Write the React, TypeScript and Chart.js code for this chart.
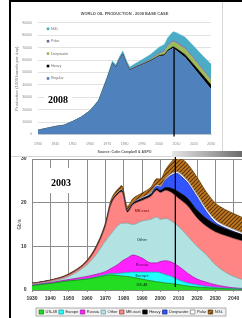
import React, { useEffect, useRef } from "react";
import { Chart, registerables } from "chart.js";
Chart.register(...registerables);

// ---------- TOP CHART (2008 base case) ----------
const TOP_YEARS = [1930, 1935, 1940, 1945, 1950, 1955, 1960, 1965, 1970, 1973, 1975, 1977, 1979, 1981, 1983, 1985, 1990, 1995, 2000, 2003, 2005, 2008, 2010, 2015, 2020, 2025, 2030];
const TOP_REGULAR = [3500, 5000, 6500, 7500, 10500, 14000, 19000, 27000, 45000, 57000, 54000, 60000, 64500, 57000, 51500, 53000, 56000, 59000, 63000, 63500, 67000, 69500, 67500, 62000, 53500, 45000, 36500];
const TOP_HEAVY = [0, 0, 0, 0, 0, 0, 0, 0, 200, 300, 300, 300, 400, 400, 400, 400, 500, 600, 700, 900, 1100, 1300, 1700, 2300, 2800, 3100, 3300];
const TOP_DEEPWATER = [0, 0, 0, 0, 0, 0, 0, 0, 0, 0, 0, 0, 0, 0, 0, 0, 100, 400, 1200, 2200, 3000, 4000, 4300, 4500, 4300, 4000, 3800];
const TOP_POLAR = [0, 0, 0, 0, 0, 0, 0, 0, 200, 300, 300, 400, 400, 400, 400, 500, 600, 700, 800, 800, 900, 1000, 1000, 1000, 1000, 1000, 1000];
const TOP_NGL = [0, 0, 0, 0, 100, 200, 400, 700, 1200, 1600, 1600, 1800, 2000, 2000, 2000, 2200, 3000, 3800, 4700, 5200, 6000, 7000, 7500, 8500, 9500, 10500, 12000];
const TOP_LABELS = ["Regular", "Heavy", "Deepwater", "Polar", "NGL"];
const TOP_COLORS = ["#4f81bd", "#000000", "#9bbb59", "#8064a2", "#4bacc6"];
const TOP_TITLE = "WORLD OIL PRODUCTION - 2008 BASE CASE";
const TOP_Y_TITLE = "Production (1000 barrels per day)";
const TOP_X_TITLE = "Source: Colin Campbell & ASPO";
const TOP_TAG = "2008";
const TOP_MARK_YEAR = 2008.6;
const TOP_MARK_VALUE = 69500;

// ---------- BOTTOM CHART (2003 scenario) ----------
const BOT_YEARS = [1930, 1940, 1950, 1960, 1965, 1970, 1973, 1977, 1979, 1982, 1985, 1990, 1995, 1998, 2000, 2003, 2006, 2009, 2012, 2015, 2020, 2025, 2030, 2035, 2040, 2050];
const BOT_US48 = [1.0, 1.5, 2.1, 2.5, 2.9, 3.3, 3.5, 3.3, 3.2, 3.1, 2.9, 2.5, 2.1, 1.9, 1.8, 1.6, 1.5, 1.3, 1.1, 0.9, 0.7, 0.55, 0.4, 0.3, 0.2, 0.1];
const BOT_EUROPE = [0, 0, 0, 0.05, 0.1, 0.2, 0.3, 0.5, 0.7, 0.9, 1.2, 1.6, 2.0, 2.2, 2.1, 1.9, 1.6, 1.2, 0.9, 0.7, 0.5, 0.3, 0.2, 0.15, 0.1, 0.05];
const BOT_RUSSIA = [0.1, 0.2, 0.3, 0.55, 0.6, 0.7, 1.1, 2.1, 2.7, 3.3, 3.9, 3.2, 2.1, 2.1, 2.6, 3.2, 3.3, 3.2, 2.8, 2.2, 1.3, 0.95, 0.6, 0.35, 0.2, 0.1];
const BOT_OTHER = [0.2, 0.2, 0.7, 2.7, 4.5, 7.0, 7.9, 8.9, 8.7, 8.0, 7.0, 8.5, 10.0, 10.5, 9.7, 9.7, 9.4, 9.2, 8.9, 8.5, 7.5, 6.3, 4.6, 3.4, 2.6, 1.55];
const BOT_MEEAST = [0.2, 0.3, 0.4, 0.7, 1.5, 3.4, 6.7, 7.2, 7.2, 2.5, 4.5, 4.7, 5.3, 6.1, 6.1, 6.4, 6.5, 6.4, 6.6, 6.9, 6.5, 6.5, 7.5, 8.3, 8.7, 8.8];
const BOT_HEAVY = [0, 0, 0, 0.05, 0.1, 0.15, 0.2, 0.25, 0.3, 0.3, 0.3, 0.35, 0.4, 0.45, 0.5, 0.7, 1.0, 1.4, 1.6, 1.7, 1.8, 1.8, 1.7, 1.6, 1.5, 1.3];
const BOT_DEEPWATER = [0, 0, 0, 0, 0, 0, 0, 0, 0, 0, 0, 0.1, 0.2, 0.5, 0.8, 1.8, 3.0, 4.0, 3.9, 3.6, 3.0, 1.6, 0.5, 0.2, 0.1, 0];
const BOT_POLAR = [0, 0, 0, 0, 0, 0.1, 0.1, 0.15, 0.2, 0.2, 0.2, 0.25, 0.3, 0.3, 0.3, 0.35, 0.4, 0.4, 0.5, 0.5, 0.6, 0.6, 0.6, 0.5, 0.5, 0.4];
const BOT_NGL = [0.05, 0.1, 0.2, 0.3, 0.4, 0.5, 0.7, 0.8, 0.9, 0.9, 0.9, 1.0, 1.2, 1.4, 1.5, 2.0, 2.6, 3.3, 3.6, 3.8, 3.9, 3.9, 3.8, 3.7, 3.6, 3.3];
const BOT_LABELS = ["US-48", "Europe", "Russia", "Other", "ME.east", "Heavy", "Deepwater", "Polar", "NGL"];
const BOT_COLORS = ["#22dd22", "#22ffff", "#ff22ff", "#b2e2e2", "#ff8484", "#000000", "#3355ff", "#ffffff", "hatch"];
const BOT_BORDERS = ["#117711", "#119999", "#991199", "#7a9a9a", "#884444", "#000000", "#112288", "#777777", "#553300"];
const BOT_LABEL_COLORS = ["#0c5c0c", "#127070", "#7a0f7a", "#3c6262", "#a02828"];
const BOT_Y_TITLE = "Gb/a";
const BOT_TAG = "2003";
const BOT_LABEL_YEAR = 1990;
const BOT_MARK_YEAR = 2008.2;

const SANS = "'Liberation Sans', Arial, sans-serif";
const SERIF = "'Liberation Serif', 'Times New Roman', serif";

function makeHatch(): CanvasPattern | string {
  const c = document.createElement("canvas");
  c.width = 4;
  c.height = 4;
  const g = c.getContext("2d");
  if (!g) return "#a0621a";
  g.fillStyle = "#c27a22";
  g.fillRect(0, 0, 4, 4);
  g.strokeStyle = "#5a3206";
  g.lineWidth = 1.1;
  g.beginPath();
  g.moveTo(-1, 5);
  g.lineTo(5, -1);
  g.moveTo(-1, 1);
  g.lineTo(1, -1);
  g.moveTo(3, 5);
  g.lineTo(5, 3);
  g.stroke();
  const p = g.createPattern(c, "repeat");
  return p || "#a0621a";
}

function pts(years: number[], vals: number[]) {
  return years.map((x, i) => ({ x, y: vals[i] }));
}

const topDecor = {
  id: "topDecor",
  afterDatasetsDraw(chart: any) {
    const { ctx, chartArea, scales } = chart;
    const x = scales.x;
    const y = scales.y;
    ctx.save();
    const lx = x.getPixelForValue(TOP_MARK_YEAR);
    ctx.strokeStyle = "#000";
    ctx.lineWidth = 1.3;
    ctx.beginPath();
    ctx.moveTo(lx, y.getPixelForValue(TOP_MARK_VALUE));
    ctx.lineTo(lx, chartArea.bottom + 2);
    ctx.stroke();
    const order = [4, 3, 2, 1, 0];
    const step = y.getPixelForValue(0) - y.getPixelForValue(10000);
    ctx.font = `3.6px ${SANS}`;
    ctx.textBaseline = "middle";
    order.forEach((di, k) => {
      const yy = chartArea.top + 6 + k * step;
      const xx = chartArea.left + 10;
      ctx.fillStyle = TOP_COLORS[di];
      ctx.fillRect(xx - 1.3, yy - 1.3, 2.6, 2.6);
      ctx.fillStyle = "#6a6a6a";
      ctx.fillText(TOP_LABELS[di], xx + 3, yy);
    });
    ctx.fillStyle = "#fff";
    ctx.fillRect(chartArea.left + 6, chartArea.top + 69, 28, 14);
    ctx.fillStyle = "#000";
    ctx.font = `bold 10px ${SERIF}`;
    ctx.textBaseline = "alphabetic";
    ctx.fillText(TOP_TAG, chartArea.left + 10, chartArea.top + 80);
    ctx.restore();
  },
};

const botDecor = {
  id: "botDecor",
  beforeDraw(chart: any) {
    const lg = chart.legend;
    if (!lg || !lg.legendHitBoxes || !lg.legendHitBoxes.length) return;
    const hb = lg.legendHitBoxes;
    let l = Infinity, r = -Infinity, t = Infinity, b = -Infinity;
    hb.forEach((h: any) => {
      l = Math.min(l, h.left);
      r = Math.max(r, h.left + h.width);
      t = Math.min(t, h.top);
      b = Math.max(b, h.top + h.height);
    });
    const ctx = chart.ctx;
    ctx.save();
    ctx.fillStyle = "#f3f3f3";
    ctx.strokeStyle = "#9a9a9a";
    ctx.lineWidth = 0.8;
    ctx.fillRect(l - 3, t - 2, r - l + 6, b - t + 4);
    ctx.strokeRect(l - 3, t - 2, r - l + 6, b - t + 4);
    ctx.restore();
  },
  afterDatasetsDraw(chart: any) {
    const { ctx, chartArea, scales } = chart;
    const x = scales.x;
    const y = scales.y;
    ctx.save();
    const idx = BOT_YEARS.indexOf(BOT_LABEL_YEAR);
    const series = [BOT_US48, BOT_EUROPE, BOT_RUSSIA, BOT_OTHER, BOT_MEEAST];
    let base = 0;
    ctx.font = `bold 3.8px ${SANS}`;
    ctx.textAlign = "center";
    ctx.textBaseline = "middle";
    series.forEach((s, i) => {
      const top = base + s[idx];
      ctx.fillStyle = BOT_LABEL_COLORS[i];
      ctx.fillText(BOT_LABELS[i], x.getPixelForValue(BOT_LABEL_YEAR), y.getPixelForValue((base + top) / 2));
      base = top;
    });
    const lx = x.getPixelForValue(BOT_MARK_YEAR);
    ctx.strokeStyle = "#000";
    ctx.lineWidth = 1.3;
    ctx.beginPath();
    ctx.moveTo(lx, chartArea.top - 6);
    ctx.lineTo(lx, chartArea.bottom - 3);
    ctx.stroke();
    ctx.fillStyle = "#fff";
    ctx.fillRect(chartArea.left + 10, chartArea.top + 9, 38, 25);
    ctx.fillStyle = "#000";
    ctx.font = `bold 10px ${SERIF}`;
    ctx.textAlign = "left";
    ctx.textBaseline = "alphabetic";
    ctx.fillText(BOT_TAG, chartArea.left + 19, chartArea.top + 26.5);
    ctx.restore();
  },
};

export default function App() {
  const topRef = useRef<HTMLCanvasElement>(null);
  const botRef = useRef<HTMLCanvasElement>(null);

  useEffect(() => {
    const topSeries = [TOP_REGULAR, TOP_HEAVY, TOP_DEEPWATER, TOP_POLAR, TOP_NGL];
    const top = new Chart(topRef.current as HTMLCanvasElement, {
      type: "line",
      data: {
        datasets: topSeries.map((s, i) => ({
          label: TOP_LABELS[i],
          data: pts(TOP_YEARS, s),
          backgroundColor: TOP_COLORS[i],
          borderColor: TOP_COLORS[i],
          borderWidth: 0.5,
          pointRadius: 0,
          fill: i === 0 ? "origin" : "-1",
          tension: 0,
        })),
      },
      options: {
        animation: false,
        responsive: false,
        maintainAspectRatio: false,
        events: [],
        layout: { padding: { left: 0, right: 8, top: 0, bottom: 0 } },
        plugins: {
          legend: { display: false },
          tooltip: { enabled: false },
          title: {
            display: true,
            fullSize: false,
            text: TOP_TITLE,
            color: "#555",
            font: { size: 4, weight: "bold", family: SANS },
            padding: { top: 9, bottom: 7 },
          },
        },
        scales: {
          x: {
            type: "linear",
            min: 1930,
            max: 2030,
            grid: { display: false, drawTicks: false },
            border: { color: "#d0d0d0" },
            ticks: { stepSize: 10, color: "#8a8a8a", font: { size: 3.5, family: SANS }, padding: 7, maxRotation: 0, autoSkip: false, callback: (v: any) => String(v) },
            title: { display: true, text: TOP_X_TITLE, color: "#555", font: { size: 3.5, weight: "bold", family: SANS }, padding: { top: 1, bottom: 2 } },
            afterFit: (s: any) => { s.height = 21.5; },
          },
          y: {
            stacked: true,
            min: 0,
            max: 90000,
            grid: { color: "#e2e2e2", drawTicks: false },
            border: { display: false },
            ticks: { stepSize: 10000, color: "#8a8a8a", font: { size: 3.5, family: SANS }, padding: 6, callback: (v: any) => String(v) },
            title: { display: true, text: TOP_Y_TITLE, color: "#777", font: { size: 4.3, family: SANS }, padding: { top: 4, bottom: 0 } },
            afterFit: (s: any) => { s.width = 28; },
          },
        },
      },
      plugins: [topDecor],
    } as any);

    const hatch = makeHatch();
    const botSeries = [BOT_US48, BOT_EUROPE, BOT_RUSSIA, BOT_OTHER, BOT_MEEAST, BOT_HEAVY, BOT_DEEPWATER, BOT_POLAR, BOT_NGL];
    const bot = new Chart(botRef.current as HTMLCanvasElement, {
      type: "line",
      data: {
        datasets: botSeries.map((s, i) => ({
          label: BOT_LABELS[i],
          data: pts(BOT_YEARS, s),
          backgroundColor: BOT_COLORS[i] === "hatch" ? hatch : BOT_COLORS[i],
          borderColor: BOT_BORDERS[i],
          borderWidth: 0.7,
          pointRadius: 0,
          fill: i === 0 ? "origin" : "-1",
          cubicInterpolationMode: "monotone",
        })),
      },
      options: {
        animation: false,
        responsive: false,
        maintainAspectRatio: false,
        events: [],
        layout: { padding: { left: 0, right: 12, top: 9, bottom: 0 } },
        plugins: {
          tooltip: { enabled: false },
          legend: {
            display: true,
            position: "bottom",
            maxHeight: 10,
            labels: { boxWidth: 4.5, boxHeight: 4, padding: 2, color: "#222", font: { size: 4, family: SANS } },
          },
        },
        scales: {
          x: {
            type: "linear",
            min: 1930,
            max: 2050,
            grid: { color: "#8c8c8c", lineWidth: 1, drawTicks: true, tickLength: 2 },
            border: { color: "#888" },
            ticks: { stepSize: 10, color: "#333", font: { size: 5, weight: "bold", family: SANS }, padding: 4, maxRotation: 0, autoSkip: false, callback: (v: any) => String(v) },
            afterFit: (s: any) => { s.height = 18; },
          },
          y: {
            stacked: true,
            min: 0,
            max: 30,
            grid: { color: "#8c8c8c", lineWidth: 1, drawTicks: false },
            border: { color: "#888" },
            ticks: { stepSize: 10, color: "#333", font: { size: 5, weight: "bold", family: SANS }, padding: 5.5 },
            title: { display: true, text: BOT_Y_TITLE, color: "#333", font: { size: 4.5, family: SANS }, padding: { top: 7, bottom: 0 } },
            afterFit: (s: any) => { s.width = 22; },
          },
        },
      },
      plugins: [botDecor],
    } as any);

    return () => {
      top.destroy();
      bot.destroy();
    };
  }, []);

  return (
    <div style={{ position: "fixed", left: 0, top: 0, width: 242, height: 318, overflow: "hidden", background: "#fff" }}>
      <canvas ref={botRef} width={254} height={168} style={{ position: "absolute", left: 10, top: 150, width: 254, height: 168, zIndex: 1 }} />
      <div style={{ position: "absolute", left: 10, top: 2, width: 212, height: 154, background: "#fff", borderRight: "1px solid #d6d6d6", borderBottom: "1px solid #d6d6d6", zIndex: 2 }}>
        <canvas ref={topRef} width={212} height={154} style={{ display: "block", width: 212, height: 154 }} />
      </div>
      <div style={{ position: "absolute", left: 172, top: 151, width: 70, height: 6, background: "linear-gradient(to right, #e6e6e6, #a0a0a0 60%, #6a6a6a)", zIndex: 3 }} />
      <div style={{ position: "absolute", left: 9, top: 0, width: 2, height: 318, background: "#000", zIndex: 4 }} />
      <div style={{ position: "absolute", left: 9, top: 0, width: 233, height: 1.5, background: "#000", zIndex: 4 }} />
    </div>
  );
}
